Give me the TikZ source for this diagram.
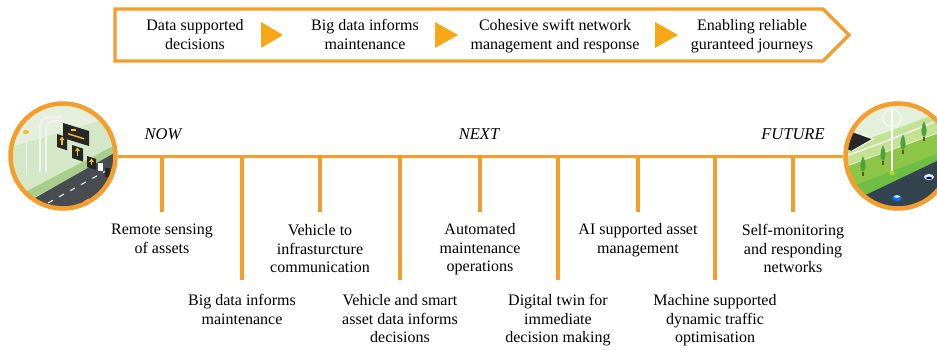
\documentclass[tikz,border=0pt]{standalone}
\usepackage{fontspec}
\setmainfont{Liberation Serif}
\definecolor{tlorange}{RGB}{245,158,45}
\definecolor{arroworange}{RGB}{248,168,22}
\definecolor{paleg}{RGB}{212,232,200}
\definecolor{paleg2}{RGB}{228,240,220}
\definecolor{verge}{RGB}{168,206,140}
\definecolor{roadgrey}{RGB}{70,76,80}
\definecolor{roadblue}{RGB}{52,68,78}
\definecolor{lawn}{RGB}{196,226,150}
\definecolor{band}{RGB}{140,198,70}
\definecolor{brightg}{RGB}{110,190,70}
\definecolor{treeg}{RGB}{80,160,60}
\definecolor{signyel}{RGB}{240,190,40}
\begin{document}
\begin{tikzpicture}[x=1pt,y=-1pt,
  txt/.style={align=center, inner sep=0pt, anchor=north,
    font=\fontsize{16}{18.7}\selectfont},
  era/.style={inner sep=0pt, anchor=north, font=\fontsize{16.5}{19}\selectfont\itshape},
  tl/.style={draw=tlorange, line width=3pt},
  tick/.style={draw=tlorange, line width=3.2pt},
  frame/.style={draw=tlorange, line width=3.4pt, line join=miter},
  pointer/.style={fill=arroworange},
  ring/.style={circle, draw=tlorange, line width=4.5pt, minimum size=105pt, inner sep=0pt},
  pole/.style={draw=white!90!gray, line width=1.8pt, line cap=round},
  sign/.style={fill=black!85},
  arr/.style={fill=signyel}
]
\useasboundingbox (0,0) rectangle (937,349);

% ---------- banner ----------
\draw[frame] (115,9) -- (823,9) -- (849,35) -- (823,61) -- (115,61) -- cycle;
\fill[pointer] (261,22) -- (283,35) -- (261,48) -- cycle;
\fill[pointer] (435,22) -- (458,35) -- (435,48) -- cycle;
\fill[pointer] (655,22) -- (678,35) -- (655,48) -- cycle;
\node[txt] (b1) at (195,19) {Data supported\\decisions};
\node[txt] (b2) at (365,19) {Big data informs\\maintenance};
\node[txt] (b3) at (555,19) {Cohesive swift network\\management and response};
\node[txt] (b4) at (752,19) {Enabling reliable\\guranteed journeys};

% ---------- left scene: motorway gantry ----------
\begin{scope}
  \clip (63,156) circle (52.5);
  \fill[paleg] (0,95) rectangle (130,220);
  \fill[paleg2] (0,95) -- (130,95) -- (130,112) -- (0,150) -- cycle;
  \fill[verge] (0,205) -- (125,140) -- (125,150) -- (0,215) -- cycle;
  \fill[roadgrey] (10,212) -- (125,147) -- (125,220) -- (10,220) -- cycle;
  \fill[verge!70!teal] (10,212) -- (0,200) -- (0,220) -- cycle;
  % lane markings
  \foreach \i in {0,...,6}
    \draw[white, line width=1pt] ({48+\i*11},{203-\i*6.1}) -- ++(5,-2.8);
  \foreach \i in {0,...,6}
    \draw[white!80!gray, line width=0.8pt] ({62+\i*11},{214-\i*6.1}) -- ++(5,-2.8);
  % lamp post
  \draw[white!85!gray, line width=1pt] (26,175) -- (26,134);
  \fill[signyel] (26,132) ellipse (3 and 2);
  % gantry posts
  \draw[pole] (40,172) -- (40,126) to[out=-90+180,in=180] (49,117) -- (62,117);
  \draw[pole] (46,172) -- (46,129) to[out=90,in=180] (53,121) -- (63,121);
  % overhead signs
  \fill[sign] (63,123) -- (89,131) -- (89,146) -- (63,138) -- cycle;
  \fill[signyel] (71,129) rectangle (76,131);
  \fill[signyel] (68,133) -- (84,138) -- (84,139.5) -- (68,134.5) -- cycle;
  \foreach \x/\y/\w/\h in {57/134/10/13, 72/145/11/13, 87/156/9/11}{
    \fill[sign] (\x,\y) -- ({\x+\w},{\y+\w*0.33}) -- ({\x+\w},{\y+\w*0.33+\h}) -- (\x,{\y+\h}) -- cycle;
    \fill[arr] ({\x+\w/2},{\y+2.5}) -- ({\x+\w/2+2.5},{\y+6}) -- ({\x+\w/2-2.5},{\y+6}) -- cycle;
    \fill[arr] ({\x+\w/2-0.8},{\y+6}) rectangle ({\x+\w/2+0.8},{\y+\h-2});
  }
  \fill[white] (98,163) rectangle (103,171);
  \fill[sign] (105,168) rectangle (110,177);
\end{scope}
\node[ring] (lc) at (63,156) {};

% ---------- right scene: green corridor ----------
\begin{scope}
  \clip (898,156) circle (52.5);
  \fill[paleg2] (830,95) rectangle (960,220);
  \fill[lawn] (830,150) .. controls (870,140) and (905,125) .. (960,105) -- (960,140) -- (830,190) -- cycle;
  \draw[white, line width=1.2pt] (838,158) .. controls (872,148) and (905,133) .. (960,112);
  \fill[black!85] (840,127) -- (873,139) -- (852,151) -- (836,145) -- cycle;
  \draw[white, line width=1pt] (840,127) -- (873,139) -- (852,151);
  \fill[band] (830,172) -- (960,125) -- (960,150) -- (830,205) -- cycle;
  \draw[white!70!band, line width=1pt] (830,172) -- (960,125);
  \fill[brightg] (830,195) -- (960,145) -- (960,158) -- (830,210) -- cycle;
  \fill[roadblue] (830,212) -- (960,150) -- (960,220) -- (830,220) -- cycle;
  % wind turbine
  \draw[white!60!paleg2, line width=1.2pt] (892,118) circle (9);
  \draw[white, line width=2.2pt] (892,108) -- (892,171);
  \fill[yellow!70!green] (892,173) ellipse (3 and 2);
  % trees
  \foreach \x/\y in {863/176, 883/165, 903/154, 924/141}{
    \fill[brown!60!black] (\x-0.6,\y-4) rectangle (\x+0.6,\y);
    \fill[treeg] (\x,\y-4) .. controls (\x-4,\y-6) and (\x-3,\y-14) .. (\x,\y-20)
                 .. controls (\x+3,\y-14) and (\x+4,\y-6) .. (\x,\y-4);
  }
  % vehicles
  \fill[blue!55!cyan] (897,198) ellipse (5 and 3);
  \fill[white] (897,196.5) ellipse (3 and 1.2);
  \fill[white!85!cyan] (929,177) ellipse (5 and 3);
  \fill[blue!50!black] (929,178) ellipse (3 and 1.2);
\end{scope}
\node[ring] (rc) at (898,156) {};

% ---------- timeline ----------
\draw[tl] (lc.east) -- (rc.west);
\node[era] (now) at (163,128.5) {NOW};
\node[era] (next) at (479,128.5) {NEXT};
\node[era] (future) at (793,128.5) {FUTURE};

\foreach \n/\x in {1/162,2/242,3/320,4/400,5/480,6/558,7/638,8/715,9/793}
  \coordinate (t\n) at (\x,156);

% milestones above the fold
\node[txt] (m1) at (162,224) {Remote sensing\\of assets};
\node[txt] (m3) at (320,224) {Vehicle to\\infrasturcture\\communication};
\node[txt] (m5) at (480,223) {Automated\\maintenance\\operations};
\node[txt] (m7) at (638,223) {AI supported asset\\management};
\node[txt] (m9) at (793,224) {Self-monitoring\\and responding\\networks};
% milestones below
\node[txt] (m2) at (242,294) {Big data informs\\maintenance};
\node[txt] (m4) at (400,294) {Vehicle and smart\\asset data informs\\decisions};
\node[txt] (m6) at (558,294) {Digital twin for\\immediate\\decision making};
\node[txt] (m8) at (715,294) {Machine supported\\dynamic traffic\\optimisation};

\foreach \n in {1,3,5,7,9}
  \draw[tick] (t\n) -- (t\n |- 0,212);
\foreach \n in {2,4,6,8}
  \draw[tick] (t\n) -- (t\n |- 0,280);
\end{tikzpicture}
\end{document}
